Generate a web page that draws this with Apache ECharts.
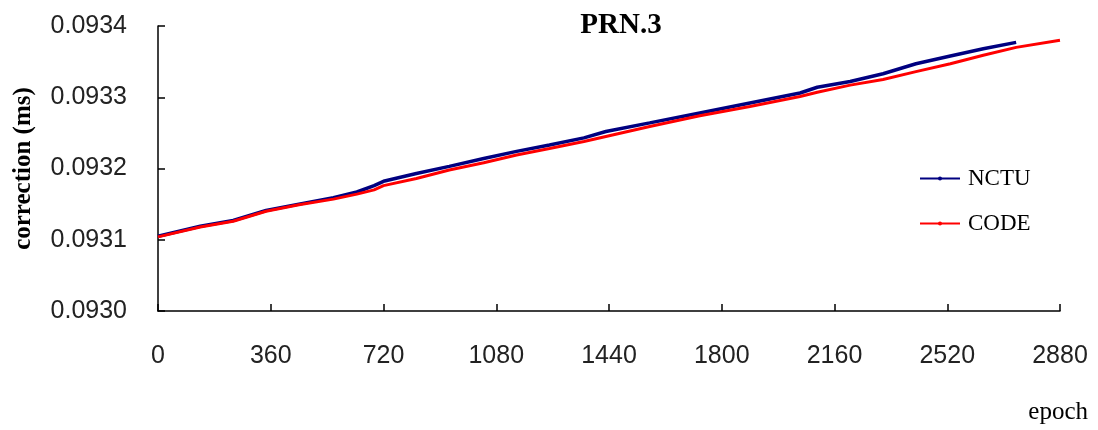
<!DOCTYPE html>
<html>
<head>
<meta charset="utf-8">
<script src="https://cdn.jsdelivr.net/npm/echarts@6/dist/echarts.min.js"></script>
<style>html,body{margin:0;padding:0;background:#fff}#c{width:1098px;height:430px}</style>
</head>
<body>
<div id="c"></div>
<script>
var titleText = 'PRN.3';
var yName = 'correction (ms)';
var xName = 'epoch';
var seriesNames = ['NCTU', 'CODE'];
var epochs = [0,135,240,345,450,560,635,690,720,825,930,1040,1145,1250,1360,1430,1570,1730,1890,2050,2105,2210,2315,2420,2530,2635,2740,2880];
var nctu = [0.093105,0.093119,0.093127,0.093141,0.093150,0.093159,0.093167,0.093176,0.093182,0.093193,0.093203,0.093214,0.093224,0.093233,0.093243,0.093252,0.093264,0.093278,0.093292,0.093306,0.093314,0.093322,0.093333,0.093347,0.093358,0.093368,0.093377];
var code = [0.093104,0.093118,0.093126,0.093140,0.093149,0.093157,0.093164,0.093170,0.093176,0.093186,0.093198,0.093208,0.093219,0.093228,0.093238,0.093245,0.093259,0.093274,0.093287,0.093301,0.093307,0.093317,0.093325,0.093336,0.093347,0.093359,0.093370,0.093380];
var xTicks = [0,360,720,1080,1440,1800,2160,2520,2880];
var yTicks = [0.0930,0.0931,0.0932,0.0933,0.0934];

function pairs(xs, ys){ return ys.map(function(v,i){ return [xs[i], v]; }); }

var chart = echarts.init(document.getElementById('c'), null, {renderer:'canvas'});
chart.setOption({
  animation:false,
  backgroundColor:'#fff',
  title:{text:titleText, left:616, top:6, textAlign:'center',
    textStyle:{fontFamily:'Liberation Serif', fontWeight:'bold', fontSize:29, color:'#000'}},
  legend:{orient:'vertical', left:919, top:167, padding:0, itemWidth:40, itemHeight:5, itemGap:22,
    textStyle:{fontFamily:'Liberation Serif', fontSize:23, color:'#000', padding:[0,0,0,3]},
    data:seriesNames},
  grid:{left:158, right:38, top:26, bottom:119, containLabel:false},
  xAxis:{type:'value', min:xTicks[0], max:xTicks[xTicks.length-1], interval:360,
    axisLine:{lineStyle:{color:'#000', width:1.5}},
    axisTick:{inside:true, length:7, lineStyle:{color:'#000', width:1.5}},
    axisLabel:{margin:33, fontFamily:'Liberation Sans', fontSize:25, color:'#222',
      formatter:function(v){ return String(v); }},
    splitLine:{show:false}},
  yAxis:{type:'value', min:yTicks[0], max:yTicks[yTicks.length-1], interval:0.0001,
    name:yName, nameLocation:'middle', nameRotate:90, nameGap:122,
    nameTextStyle:{fontFamily:'Liberation Serif', fontWeight:'bold', fontSize:25, color:'#000'},
    axisLine:{show:true, lineStyle:{color:'#000', width:1.5}},
    axisTick:{show:true, inside:true, length:7, lineStyle:{color:'#000', width:1.5}},
    axisLabel:{margin:31, fontFamily:'Liberation Sans', fontSize:25, color:'#222',
      formatter:function(v){ return v.toFixed(4); }},
    splitLine:{show:false}},
  graphic:[{type:'text', right:10, top:400,
    style:{text:xName, font:'25px "Liberation Serif"', fill:'#000'}}],
  series:[
    {name:seriesNames[0], type:'line', data:pairs(epochs, nctu), showSymbol:false,
     symbol:'circle', symbolSize:3, color:'#000080', lineStyle:{width:3.5, color:'#000080'}},
    {name:seriesNames[1], type:'line', data:pairs(epochs, code), showSymbol:false,
     symbol:'circle', symbolSize:3, color:'#ff0000', lineStyle:{width:3, color:'#ff0000'}}
  ]
});
</script>
</body>
</html>
